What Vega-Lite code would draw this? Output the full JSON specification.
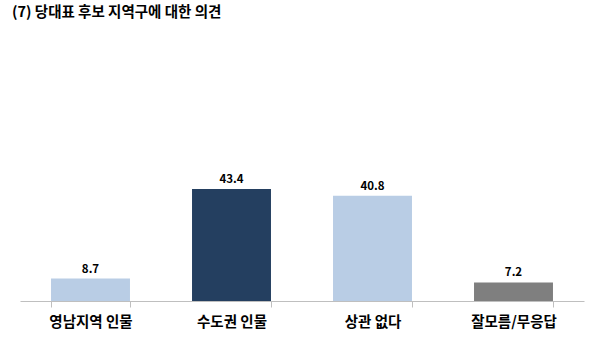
{
  "$schema": "https://vega.github.io/schema/vega-lite/v6.json",
  "autosize": "none",
  "width": 564,
  "height": 129,
  "padding": {"left": 20, "top": 172, "right": 16, "bottom": 42},
  "background": "white",
  "title": {
    "text": "(7) 당대표 후보 지역구에 대한 의견",
    "anchor": "start",
    "frame": "group",
    "offset": 152,
    "dx": -8,
    "font": "Noto Sans CJK KR",
    "fontSize": 14.5,
    "fontWeight": "bold",
    "color": "#000000"
  },
  "data": {
    "values": [
      {"category": "영남지역 인물", "value": 8.7, "group": "a"},
      {"category": "수도권 인물", "value": 43.4, "group": "b"},
      {"category": "상관 없다", "value": 40.8, "group": "a"},
      {"category": "잘모름/무응답", "value": 7.2, "group": "c"}
    ]
  },
  "config": {"view": {"stroke": null}},
  "encoding": {
    "x": {
      "field": "category",
      "type": "nominal",
      "sort": null,
      "scale": {"paddingInner": 0.44, "paddingOuter": 0.22},
      "axis": {
        "title": null,
        "labelAngle": 0,
        "tickBand": "extent",
        "domainColor": "#BFBFBF",
        "tickColor": "#BFBFBF",
        "tickSize": 6,
        "labelFont": "Noto Sans CJK KR",
        "labelFontSize": 14.5,
        "labelFontWeight": "bold",
        "labelColor": "#000000",
        "labelPadding": 8
      }
    },
    "y": {
      "field": "value",
      "type": "quantitative",
      "scale": {"domain": [0, 50]},
      "axis": null
    }
  },
  "layer": [
    {
      "mark": {"type": "bar"},
      "encoding": {
        "color": {
          "field": "group",
          "type": "nominal",
          "scale": {"domain": ["a", "b", "c"], "range": ["#B9CDE5", "#243F60", "#7F7F7F"]},
          "legend": null
        }
      }
    },
    {
      "mark": {
        "type": "text",
        "baseline": "bottom",
        "dy": -4,
        "font": "Noto Sans CJK KR",
        "fontSize": 11.5,
        "fontWeight": "bold",
        "color": "#000000"
      },
      "encoding": {
        "text": {"field": "value", "type": "quantitative", "format": ".1f"}
      }
    }
  ]
}
